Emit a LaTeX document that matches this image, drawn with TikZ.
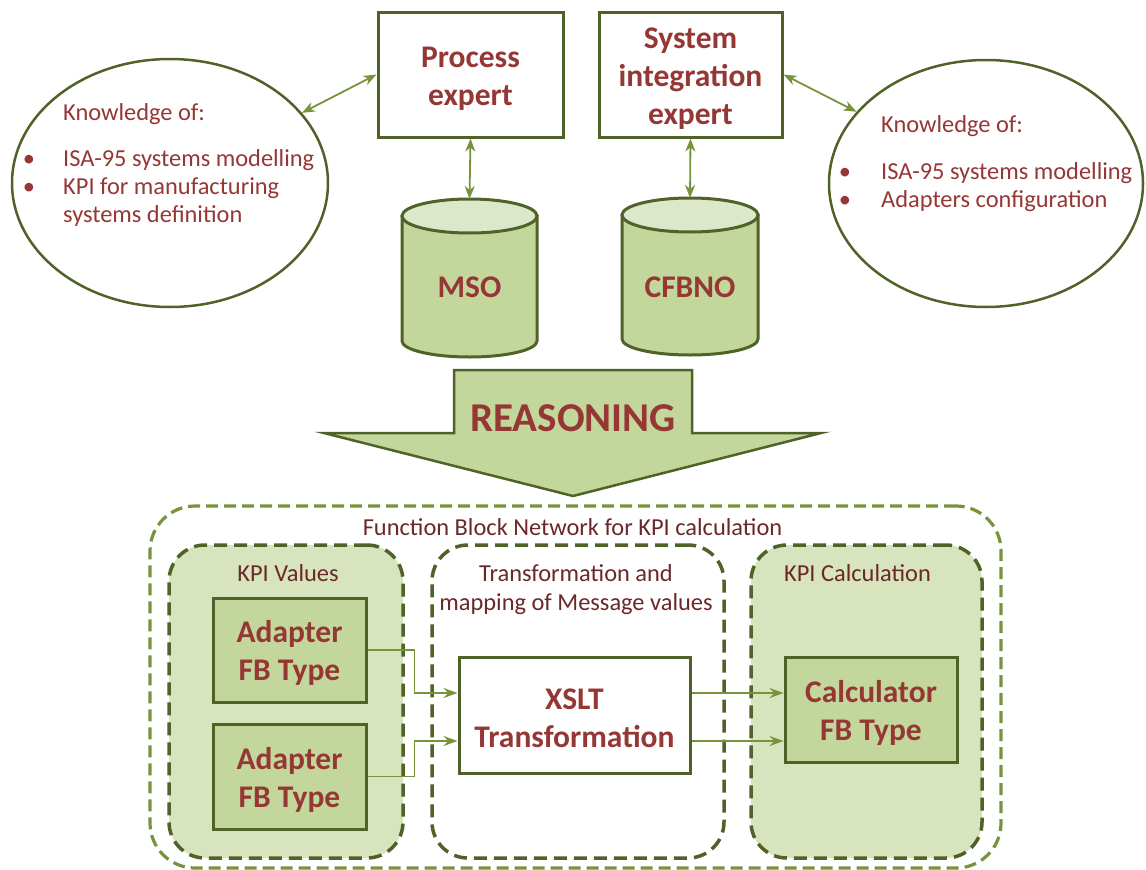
\documentclass[tikz,border=0pt]{standalone}
\usepackage{fontspec}
\setmainfont{Carlito}
\usetikzlibrary{arrows.meta,shapes.geometric}

\definecolor{dkgreen}{HTML}{4F6228}
\definecolor{ltgreen}{HTML}{77933C}
\definecolor{fillgreen}{HTML}{C3D69B}
\definecolor{palegreen}{HTML}{D7E4BD}
\definecolor{lidgreen}{HTML}{DDE8CB}
\definecolor{txtred}{HTML}{953735}
\definecolor{txtdark}{HTML}{6A2928}

\newcommand\boxfont{\fontsize{31.5}{38}\selectfont\bfseries}
\newcommand\plainfont{\fontsize{24.4}{29}\selectfont}
% tall first-line strut that pushes box captions slightly downwards
\newcommand\capstrut{\rule{0pt}{28pt}}

\begin{document}
\begin{tikzpicture}[x=1pt,y=-1pt,
  box/.style={draw=dkgreen, line width=3pt, fill=white, inner sep=0pt,
    align=center, font=\boxfont, text=txtred},
  fbbox/.style={box, fill=fillgreen},
  knowledge/.style={ellipse, draw=dkgreen, line width=2.5pt, inner sep=0pt},
  know/.style={font=\plainfont, text=txtred, inner sep=0pt, anchor=base west},
  bul/.style={font=\plainfont, text=txtred, inner sep=0pt, anchor=base},
  grouplabel/.style={font=\plainfont, text=txtdark, inner sep=0pt, anchor=base},
  boldlabel/.style={font=\boxfont, text=txtred, inner sep=0pt},
  link/.style={draw=ltgreen, line width=1.8pt,
    {Stealth[length=13pt,width=10pt,inset=4pt]}-{Stealth[length=13pt,width=10pt,inset=4pt]}},
  flow/.style={draw=ltgreen, line width=1.8pt,
    -{Stealth[length=14pt,width=10pt,inset=5pt]}},
  outergroup/.style={draw=ltgreen, line width=3.2pt, dash pattern=on 12pt off 6pt,
    rounded corners=45pt, inner sep=0pt},
  innergroup/.style={draw=dkgreen, line width=3.5pt, dash pattern=on 13pt off 7pt,
    rounded corners=36pt, inner sep=0pt},
  cylbody/.style={draw=dkgreen, line width=3pt, fill=fillgreen},
  cyllid/.style={draw=dkgreen, line width=3pt, fill=lidgreen},
  bigarrow/.style={draw=dkgreen, line width=2.5pt, fill=fillgreen, line join=miter}
]
\useasboundingbox (0,0) rectangle (1146,870);

% ---------- experts ----------
\node[box, minimum width=185pt, minimum height=125pt] (pe) at (470.5,74.5)
  {\capstrut Process\\expert};
\node[box, minimum width=183pt, minimum height=125pt] (se) at (690.5,74.5)
  {\capstrut System\\integration\\expert};

% ---------- knowledge ellipses ----------
\node[knowledge, minimum width=316pt, minimum height=248pt] (kl) at (170,183) {};
\node[knowledge, minimum width=314pt, minimum height=247pt] (kr) at (986,183.5) {};

\node[know] (kl0) at (63,120) {Knowledge of:};
\node[bul]  (klb1) at (29,166) {\textbullet};
\node[know] (kl1) at (63,166) {ISA-95 systems modelling};
\node[bul]  (klb2) at (29,194.5) {\textbullet};
\node[know] (kl2) at (63,194.5) {KPI for manufacturing};
\node[know] (kl3) at (63,222.5) {systems definition};

\node[know] (kr0) at (881,132.5) {Knowledge of:};
\node[bul]  (krb1) at (845,179) {\textbullet};
\node[know] (kr1) at (881,179) {ISA-95 systems modelling};
\node[bul]  (krb2) at (845,207.5) {\textbullet};
\node[know] (kr2) at (881,207.5) {Adapters configuration};

\draw[link] (kl.28) -- (pe.west);
\draw[link] (se.east) -- (kr.151);

% ---------- ontology cylinders ----------
\path[cylbody] (402,216) -- (402,341)
  arc[start angle=180, end angle=0, x radius=67.5, y radius=16]
  -- (537,216) -- cycle;
\path[cyllid] (469.5,216) ellipse[x radius=67.5, y radius=17];
\coordinate (msotop) at (469.5,199);
\node[boldlabel] (mso) at (469.5,287) {MSO};

\path[cylbody] (622,215) -- (622,339)
  arc[start angle=180, end angle=0, x radius=68, y radius=16]
  -- (758,215) -- cycle;
\path[cyllid] (690,215) ellipse[x radius=68, y radius=17];
\coordinate (cfbtop) at (690,198);
\node[boldlabel] (cfbno) at (690,287) {CFBNO};

\draw[link] (pe.south) -- (msotop);
\draw[link] (se.south) -- (cfbtop);

% ---------- reasoning arrow ----------
\path[bigarrow] (454,370) -- (692,370) -- (692,433) -- (821,433) -- (573,496)
  -- (324,433) -- (454,433) -- cycle;
\node[font=\fontsize{41}{49}\selectfont\bfseries, text=txtred, inner sep=0pt]
  (reason) at (573,418) {REASONING};

% ---------- function block network ----------
\node[outergroup, minimum width=851pt, minimum height=362pt] (fbn) at (575.5,687) {};
\node[grouplabel] (fbnlabel) at (572.5,535) {Function Block Network for KPI calculation};

\node[innergroup, fill=palegreen, minimum width=234pt, minimum height=313pt]
  (kpiv) at (286,701.5) {};
\node[innergroup, fill=white, minimum width=292pt, minimum height=313pt]
  (trans) at (578,701.5) {};
\node[innergroup, fill=palegreen, minimum width=231pt, minimum height=313pt]
  (kpic) at (866.5,701.5) {};

\node[grouplabel] (kpivlabel) at (288,581.5) {KPI Values};
\node[grouplabel] (translabel1) at (576,581.5) {Transformation and};
\node[grouplabel] (translabel2) at (576,610.5) {mapping of Message values};
\node[grouplabel] (kpiclabel) at (857.5,581.5) {KPI Calculation};

\node[fbbox, minimum width=153pt, minimum height=104pt] (ad1) at (289.5,650)
  {\capstrut Adapter\\FB Type};
\node[fbbox, minimum width=153pt, minimum height=105pt] (ad2) at (289.5,776.5)
  {\capstrut Adapter\\FB Type};
\node[box, minimum width=231pt, minimum height=116pt] (xslt) at (574.5,715)
  {\capstrut XSLT\\Transformation};
\node[fbbox, minimum width=172pt, minimum height=105pt] (calc) at (871,709.5)
  {\capstrut Calculator\\FB Type};

\draw[flow] (ad1.east) -- ++(47,0) |- ([yshift=22pt]xslt.west);
\draw[flow] (ad2.east) -- ++(47,0) |- ([yshift=-26pt]xslt.west);
\draw[flow] ([yshift=22pt]xslt.east) -- ([yshift=16.5pt]calc.west);
\draw[flow] ([yshift=-26pt]xslt.east) -- ([yshift=-31.5pt]calc.west);
\end{tikzpicture}
\end{document}
